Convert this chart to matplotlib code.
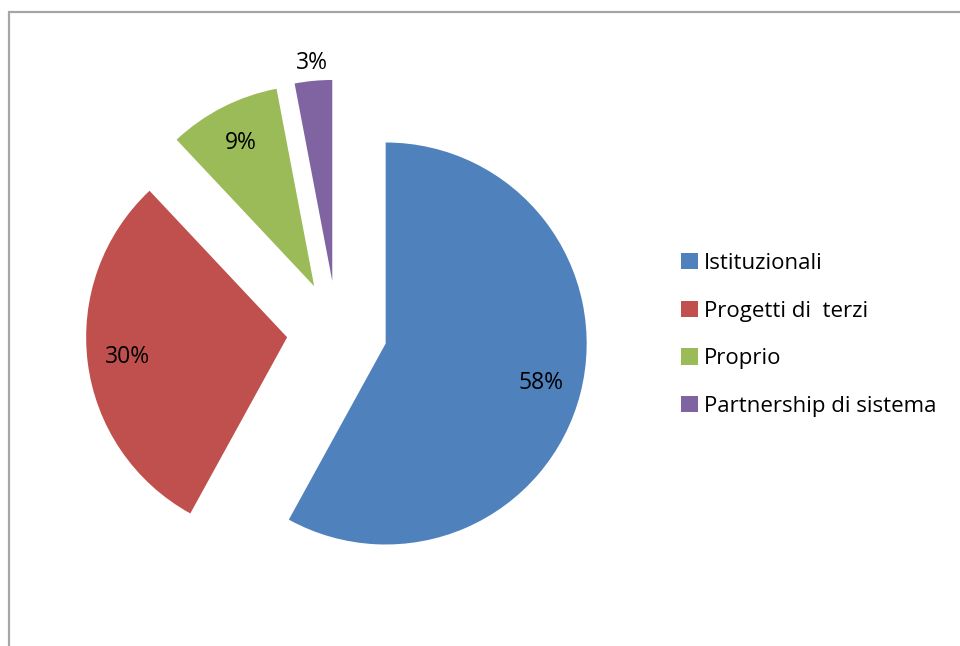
import numpy as np
import matplotlib.pyplot as plt
from matplotlib.patches import Rectangle

# Dati
categorie = ["Istituzionali", "Progetti di  terzi", "Proprio", "Partnership di sistema"]
valori = [58, 30, 9, 3]
colori = ["#4F81BD", "#C0504D", "#9BBB59", "#8064A2"]
esplosione = [0.25, 0.25, 0.25, 0.25]

plt.rcParams['font.family'] = ['Open Sans', 'DejaVu Sans']

W, H = 960, 646
fig = plt.figure(figsize=(W / 100, H / 100), dpi=100)

# bordo grigio dell'area grafico (tagliato a destra e in basso)
fig.patches.append(Rectangle((8.5 / W, -0.2), 1.5, 1.2 - 11.5 / H,
                             transform=fig.transFigure, fill=False,
                             edgecolor="#a6a6a6", linewidth=1.6))

# asse: raggio 1 = ~201 px, centro torta a (337, 331) px
R = 201
cx, cy = 337, H - 331
ax = fig.add_axes([(cx - 1.5 * R) / W, (cy - 1.5 * R) / H, 3 * R / W, 3 * R / H])

wedges, texts, autotexts = ax.pie(
    valori, colors=colori, explode=esplosione, startangle=90,
    counterclock=False, autopct='%1.0f%%', pctdistance=0.8,
    wedgeprops=dict(linewidth=0), textprops=dict(fontsize=16.5, color='black'))

ax.set_xlim(-1.5, 1.5)
ax.set_ylim(-1.5, 1.5)
ax.set_aspect('equal')
ax.axis('off')

# etichetta della fetta piccola fuori dalla torta
w = wedges[3]
mid = np.deg2rad((w.theta1 + w.theta2) / 2)
autotexts[3].set_position((w.center[0] + 1.09 * np.cos(mid),
                           w.center[1] + 1.09 * np.sin(mid)))

fig.legend(wedges, categorie, loc='center left',
           bbox_to_anchor=(661 / W, 1 - 335 / H), frameon=False,
           fontsize=16, handlelength=0.75, handleheight=0.75,
           handletextpad=0.3, labelspacing=1.2)

fig.savefig("out.png", dpi=100)
